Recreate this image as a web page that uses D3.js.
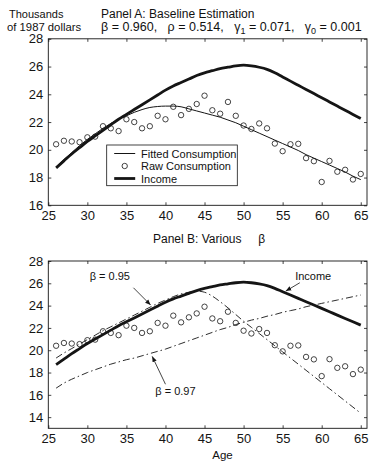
<!DOCTYPE html>
<html>
<head>
<meta charset="utf-8">
<script src="https://cdn.jsdelivr.net/npm/d3@7"></script>
<style>
  body { margin: 0; background: #fff; }
  svg text { font-family: "Liberation Sans", Arial, Helvetica, sans-serif; fill: #111; }
</style>
</head>
<body>
<div class="graph"></div>
<script>
// ages 26..65, thousands of 1987 dollars
let ages = [26, 27, 28, 29, 30, 31, 32, 33, 34, 35, 36, 37, 38, 39, 40, 41, 42, 43, 44, 45,
            46, 47, 48, 49, 50, 51, 52, 53, 54, 55, 56, 57, 58, 59, 60, 61, 62, 63, 64, 65]

let rawConsumption = [20.4, 20.65, 20.6, 20.55, 20.9, 20.95, 21.7, 21.55, 21.35, 22.2,
                      22.0, 21.55, 21.7, 22.45, 22.2, 23.1, 22.5, 22.95, 23.3, 23.9,
                      22.85, 22.6, 23.45, 22.45, 21.75, 21.5, 21.9, 21.55, 20.45, 19.9,
                      20.4, 20.43, 19.4, 19.18, 17.68, 19.2, 18.42, 18.56, 17.86, 18.26]

let fittedConsumption = [18.75, 19.3, 19.8, 20.3, 20.75, 21.15, 21.55, 21.9, 22.2, 22.45,
                         22.7, 22.9, 23.05, 23.12, 23.15, 23.15, 23.1, 22.95, 22.8, 22.65,
                         22.5, 22.35, 22.15, 21.95, 21.7, 21.45, 21.2, 20.95, 20.7, 20.45,
                         20.2, 19.95, 19.65, 19.4, 19.15, 18.9, 18.65, 18.4, 18.1, 17.85]

let income = [18.7, 19.2, 19.7, 20.15, 20.6, 21.0, 21.4, 21.8, 22.2, 22.55,
              22.9, 23.25, 23.6, 23.95, 24.3, 24.6, 24.85, 25.1, 25.35, 25.55,
              25.7, 25.85, 25.95, 26.05, 26.1, 26.05, 25.95, 25.8, 25.55, 25.25,
              24.95, 24.65, 24.35, 24.05, 23.75, 23.45, 23.15, 22.85, 22.55, 22.25]

let beta095 = [19.3, 19.75, 20.15, 20.55, 20.95, 21.35, 21.75, 22.1, 22.45, 22.8,
               23.15, 23.5, 23.85, 24.2, 24.5, 24.8, 25.05, 25.2, 25.3, 25.2,
               24.85, 24.35, 23.8, 23.2, 22.6, 22.05, 21.5, 20.95, 20.4, 19.85,
               19.3, 18.75, 18.2, 17.65, 17.1, 16.55, 16.0, 15.45, 14.9, 14.35]

let beta097 = [16.6, 17.05, 17.4, 17.7, 18.0, 18.25, 18.5, 18.75, 18.95, 19.15,
               19.3, 19.5, 19.7, 19.9, 20.1, 20.35, 20.6, 20.85, 21.1, 21.35,
               21.6, 21.85, 22.05, 22.3, 22.5, 22.7, 22.85, 23.05, 23.2, 23.4,
               23.55, 23.7, 23.9, 24.05, 24.2, 24.35, 24.5, 24.65, 24.8, 24.95]

let xTicks = [25, 30, 35, 40, 45, 50, 55, 60, 65]
let yTicksA = [16, 18, 20, 22, 24, 26, 28]
let yTicksB = [14, 16, 18, 20, 22, 24, 26, 28]

let width = 369,
    height = 461,
    ink = '#151515'

let svg = d3.select('.graph').append('svg')
    .attr('width', width)
    .attr('height', height)

let defs = svg.append('defs')
defs.append('marker')
    .attr('id', 'arrow')
    .attr('viewBox', '0 0 10 10')
    .attr('refX', 10).attr('refY', 5)
    .attr('markerWidth', 7).attr('markerHeight', 7)
    .attr('orient', 'auto')
    .append('path')
    .attr('d', 'M0,1 L10,5 L0,9 Z')
    .attr('fill', ink)

let x = d3.scaleLinear().domain([25, 65.8]).range([48.3, 367])
let yA = d3.scaleLinear().domain([16, 28]).range([205.3, 38.8])
let yB = d3.scaleLinear().domain([13, 28]).range([428.3, 261])

function drawFrame(y, yTicks) {
    let g = svg.append('g')
    let [bottom, top] = y.range()
    let [left, right] = x.range()

    g.append('g').attr('transform', 'translate(0,' + bottom + ')')
        .call(d3.axisBottom(x).tickValues(xTicks).tickSizeInner(-3).tickSizeOuter(0).tickPadding(5))
    g.append('g').attr('transform', 'translate(0,' + top + ')')
        .call(d3.axisTop(x).tickValues(xTicks).tickSizeInner(-3).tickSizeOuter(0).tickFormat(''))
    g.append('g').attr('transform', 'translate(' + left + ',0)')
        .call(d3.axisLeft(y).tickValues(yTicks).tickSizeInner(-3).tickSizeOuter(0).tickPadding(5))
    g.append('g').attr('transform', 'translate(' + right + ',0)')
        .call(d3.axisRight(y).tickValues(yTicks).tickSizeInner(-3).tickSizeOuter(0).tickFormat(''))

    g.selectAll('.domain').remove()
    g.selectAll('.tick line').attr('stroke', ink).attr('stroke-width', 0.8)
    g.selectAll('g').attr('font-family', null).attr('font-size', null)
    g.selectAll('text').attr('font-size', 13).style('fill', ink)

    g.append('rect')
        .attr('x', left).attr('y', top)
        .attr('width', right - left).attr('height', bottom - top)
        .attr('fill', 'none')
        .attr('stroke', ink)
        .attr('stroke-width', 0.9)
}

function drawLine(y, values, strokeWidth, dash) {
    let line = d3.line()
        .curve(d3.curveMonotoneX)
        .x(function(d, i) { return x(ages[i]) })
        .y(function(d) { return y(d) })
    svg.append('path')
        .datum(values)
        .attr('d', line)
        .attr('fill', 'none')
        .attr('stroke', ink)
        .attr('stroke-width', strokeWidth)
        .attr('stroke-dasharray', dash || null)
}

function drawPoints(y, values) {
    svg.append('g').selectAll('circle')
        .data(values)
        .join('circle')
        .attr('cx', function(d, i) { return x(ages[i]) })
        .attr('cy', function(d) { return y(d) })
        .attr('r', 2.7)
        .attr('fill', 'none')
        .attr('stroke', ink)
        .attr('stroke-width', 0.8)
}

// ---------- Panel A ----------
svg.append('text').attr('x', 9).attr('y', 18).attr('font-size', 11).text('Thousands')
svg.append('text').attr('x', 7).attr('y', 31).attr('font-size', 11.3).text('of 1987 dollars')
svg.append('text').attr('x', 101).attr('y', 18).attr('font-size', 12).text('Panel A: Baseline Estimation')

let params = svg.append('text').attr('x', 101).attr('y', 31).attr('font-size', 12.5).attr('xml:space', 'preserve')
params.append('tspan').text('\u03b2 = 0.960,   \u03c1 = 0.514,   \u03b3')
params.append('tspan').attr('font-size', 9).attr('dy', 3).text('1')
params.append('tspan').attr('dy', -3).text(' = 0.071,   \u03b3')
params.append('tspan').attr('font-size', 9).attr('dy', 3).text('0')
params.append('tspan').attr('dy', -3).text(' = 0.001')

drawFrame(yA, yTicksA)
drawLine(yA, fittedConsumption, 1)
drawLine(yA, income, 2.8)
drawPoints(yA, rawConsumption)

// legend
let legend = svg.append('g').attr('transform', 'translate(106.7,145)')
legend.append('rect')
    .attr('width', 130.6).attr('height', 40.7)
    .attr('fill', '#fff').attr('stroke', ink).attr('stroke-width', 0.8)
let legendItems = ['Fitted Consumption', 'Raw Consumption', 'Income']
legendItems.forEach(function(name, i) {
    let cy = 8.5 + i * 12.5
    if (i === 1) {
        legend.append('circle').attr('cx', 18).attr('cy', cy).attr('r', 2.7)
            .attr('fill', 'none').attr('stroke', ink).attr('stroke-width', 0.8)
    } else {
        legend.append('line').attr('x1', 7.5).attr('x2', 28.5).attr('y1', cy).attr('y2', cy)
            .attr('stroke', ink).attr('stroke-width', i === 0 ? 1 : 2.8)
    }
    legend.append('text').attr('x', 34.3).attr('y', cy + 4).attr('font-size', 11).text(name)
})

// ---------- Panel B ----------
let titleB = svg.append('text').attr('x', 153).attr('y', 243).attr('font-size', 12).attr('xml:space', 'preserve')
titleB.text('Panel B: Various     \u03b2')

drawFrame(yB, yTicksB)
drawLine(yB, beta095, 0.9, '7,3,1.5,3')
drawLine(yB, beta097, 0.9, '7,3,1.5,3')
drawLine(yB, income, 2.8)
drawPoints(yB, rawConsumption)

let notes = [
    { label: '\u03b2 = 0.95', tx: 30.3, ty: 26.3, from: [35.9, 25.6], to: [38.1, 24.05] },
    { label: '\u03b2 = 0.97', tx: 38.7, ty: 15.95, from: [40.0, 16.95], to: [38.3, 19.45] },
    { label: 'Income', tx: 56.6, ty: 26.3, from: [57.2, 26.05], to: [55.4, 25.3] }
]
notes.forEach(function(n) {
    svg.append('text').attr('x', x(n.tx)).attr('y', yB(n.ty)).attr('font-size', 11).text(n.label)
    svg.append('line')
        .attr('x1', x(n.from[0])).attr('y1', yB(n.from[1]))
        .attr('x2', x(n.to[0])).attr('y2', yB(n.to[1]))
        .attr('stroke', ink).attr('stroke-width', 0.8)
        .attr('marker-end', 'url(#arrow)')
})

svg.append('text').attr('x', x(47.3)).attr('y', 459).attr('text-anchor', 'middle').attr('font-size', 11.5).text('Age')
</script>
</body>
</html>
